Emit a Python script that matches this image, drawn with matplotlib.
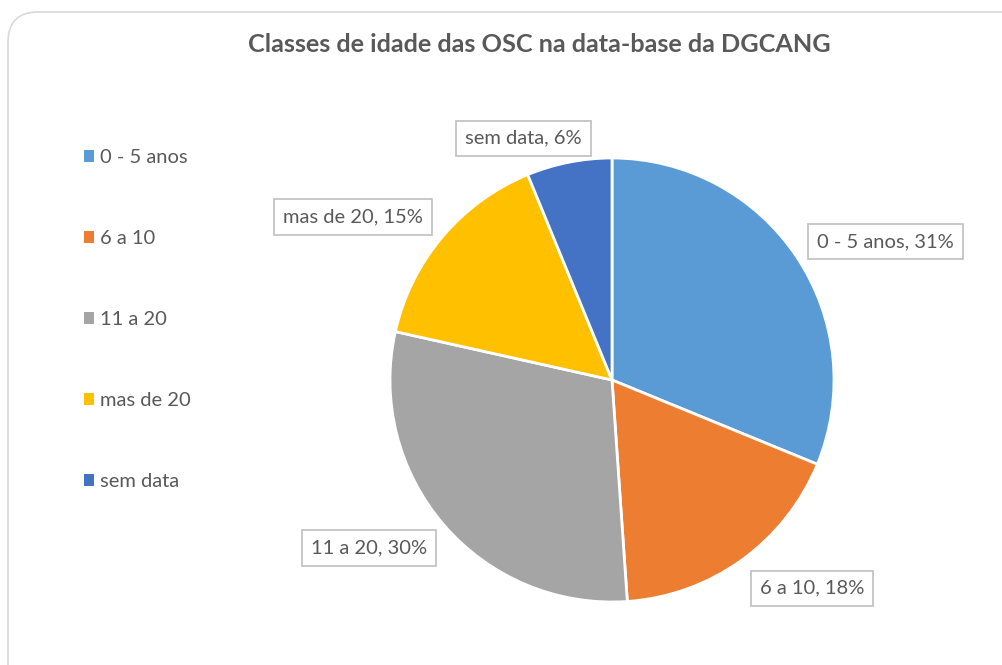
import numpy as np
import matplotlib
matplotlib.use("Agg")
import matplotlib.pyplot as plt
from matplotlib.patches import FancyBboxPatch

# Classes de idade das OSC (percentagens)
categorias = ["0 - 5 anos", "6 a 10", "11 a 20", "mas de 20", "sem data"]
valores = [31.2, 17.7, 29.6, 15.3, 6.2]
cores = ["#5B9BD5", "#ED7D31", "#A5A5A5", "#FFC000", "#4472C4"]
titulo = "Classes de idade das OSC na data-base da DGCANG"

cinza = "#595959"
plt.rcParams["font.family"] = ["Lato", "DejaVu Sans"]

fig = plt.figure(figsize=(10.03, 6.65), dpi=100)

# moldura arredondada do grafico
moldura = FancyBboxPatch((8 / 1003, -0.05), 1.05, 0.05 + 653 / 665,
                         boxstyle="round,pad=0,rounding_size=0.03",
                         transform=fig.transFigure, facecolor="white",
                         edgecolor="#D9D9D9", linewidth=1.2,
                         mutation_aspect=1003 / 665, zorder=-10)
fig.patches.append(moldura)

fig.text(0.538, 1 - 45 / 665, titulo, ha="center", va="center",
         fontsize=18.2, fontweight="bold", color=cinza)

ax = fig.add_axes([390 / 1003, 63 / 665, 444 / 1003, 444 / 665])
wedges, _ = ax.pie(valores, colors=cores, startangle=90, counterclock=False,
                   wedgeprops=dict(edgecolor="white", linewidth=2))
ax.set_xlim(-1, 1)
ax.set_ylim(-1, 1)
ax.set_aspect("equal")

# rotulos fora da pizza (distancia e ajuste de angulo por fatia)
dist = [1.38, 1.30, 1.33, 1.38, 1.16]
ajuste = [-7, 8, -6, 8, 9]
total = sum(valores)
for w, cat, v, d, a in zip(wedges, categorias, valores, dist, ajuste):
    ang = np.deg2rad((w.theta1 + w.theta2) / 2 + a)
    ax.text(d * np.cos(ang), d * np.sin(ang), f"{cat}, {round(100 * v / total)}%",
            ha="center", va="center", fontsize=14.5, color=cinza,
            bbox=dict(boxstyle="square,pad=0.45", facecolor="white",
                      edgecolor="#BFBFBF", linewidth=1.2))

leg = fig.legend(wedges, categorias, loc="upper left",
                 bbox_to_anchor=(66 / 1003, 1 - 131 / 665), frameon=False,
                 fontsize=14.5, labelcolor=cinza, handlelength=0.5,
                 handleheight=0.5, handletextpad=0.3, labelspacing=3.18)
for h in leg.legend_handles:
    h.set_edgecolor("none")

fig.savefig("out.png", dpi=100)
